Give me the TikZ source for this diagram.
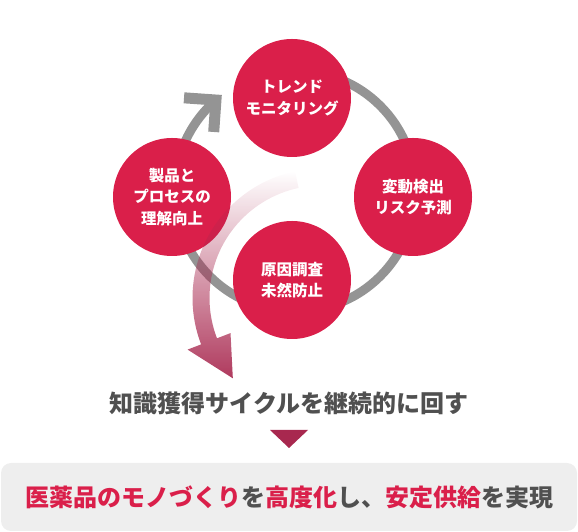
\documentclass[tikz,border=0pt]{standalone}
\usepackage{fontspec}
\setmainfont{Noto Sans CJK JP}
\usepackage{tikz}
\usetikzlibrary{calc,fadings}
\definecolor{cyclered}{HTML}{DA1F4A}
\definecolor{ringgray}{HTML}{949494}
\definecolor{arrowrose}{HTML}{A8284F}
\definecolor{textgray}{HTML}{505050}
\definecolor{panelgray}{HTML}{EEEEEE}
\tikzfading[name=rosefade,top color=transparent!100,bottom color=transparent!8]
\tikzset{
  topiccircle/.style={circle,fill=cyclered,minimum size=118pt,inner sep=0pt,align=center,text=white,font=\fontsize{15.5}{21.5}\selectfont\bfseries},
  ringline/.style={draw=ringgray,line width=9pt},
  chevron/.style={draw=ringgray,line width=11pt,line join=miter},
  bigtext/.style={font=\fontsize{24}{28}\selectfont\bfseries,text=textgray},
  panel/.style={fill=panelgray,rounded corners=10pt,minimum width=576pt,minimum height=68pt,inner sep=0pt}
}

\begin{document}
\begin{tikzpicture}[x=1pt,y=1pt]
  \useasboundingbox (0,0) rectangle (578,532);
  \coordinate (ringc) at (295,341);
  \coordinate (rosec) at (322,234);
  \draw[ringline] ($(ringc)+(112:120.5)$) arc[start angle=112,end angle=-229,radius=120.5];
  \coordinate (tip) at ($(ringc)+(131:120.5)$);
  \draw[chevron] ($(tip)+(176:32)$) -- (tip) -- ($(tip)+(266:32)$);
  \node[topiccircle] (trend) at (292,434) {トレンド\\モニタリング};
  \node[topiccircle] (detect) at (413,335) {変動検出\\リスク予測};
  \node[topiccircle] (cause) at (292,252) {原因調査\\未然防止};
  \node[topiccircle] (understand) at (172,335) {製品と\\プロセスの\\理解向上};
  \fill[arrowrose,path fading=rosefade,shift={(rosec)}]
    (102:129.5) arc[start angle=102,end angle=201,radius=129.5]
    -- (201:144) -- (222:120) -- (201:98) -- (201:112.5)
    arc[start angle=201,end angle=102,radius=112.5] -- cycle;
  \node[bigtext] (cycletext) at (289,129) {知識獲得サイクルを継続的に回す};
  \fill[arrowrose] (270,102) -- (308,102) -- (289,84) -- cycle;
  \node[panel,bigtext] (goal) at (289,35) {\textcolor{cyclered}{医薬品のモノづくり}を\textcolor{cyclered}{高度化}し、\textcolor{cyclered}{安定供給}を実現};
\end{tikzpicture}
\end{document}
